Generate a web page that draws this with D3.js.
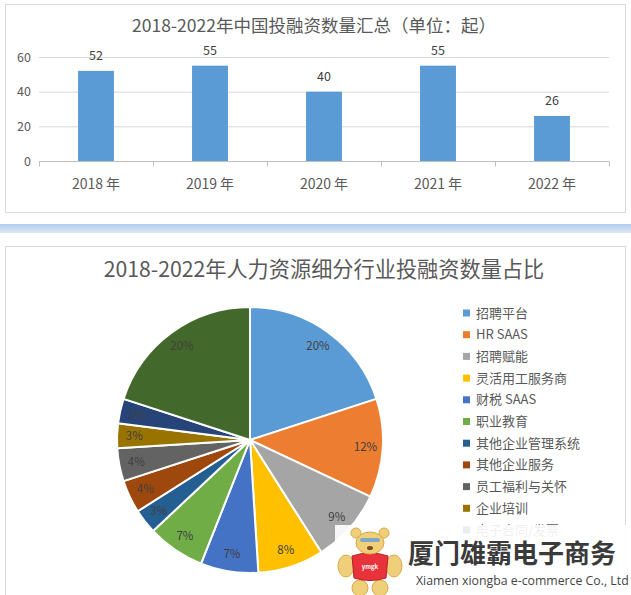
<!DOCTYPE html>
<html><head><meta charset="utf-8">
<script src="https://cdn.jsdelivr.net/npm/d3@7"></script>
<style>
html,body{margin:0;padding:0;background:#fff;}
svg{display:block;font-family:"Noto Sans CJK SC","Noto Sans",sans-serif;}
</style></head>
<body>
<svg id="c" width="631" height="595"></svg>
<script>
// ---- data ----
const years = ["2018 年","2019 年","2020 年","2021 年","2022 年"];
const counts = [52, 55, 40, 55, 26];
const yTicks = [0, 20, 40, 60];
const sectors = ["招聘平台","HR SAAS","招聘赋能","灵活用工服务商","财税 SAAS","职业教育","其他企业管理系统","其他企业服务","员工福利与关怀","企业培训","电子合同/发票","其他"];
const shares = [20, 12, 9, 8, 7, 7, 3, 4, 4, 3, 3, 20];
const sectorColors = ["#5b9bd5","#ed7d31","#a5a5a5","#ffc000","#4472c4","#70ad47","#255e91","#9e480e","#636363","#997300","#264478","#43682b"];
const legendShown = 11; // the remaining entry is hidden below the watermark in the reference
const barTitle = "2018-2022年中国投融资数量汇总（单位：起）";
const pieTitle = "2018-2022年人力资源细分行业投融资数量占比";

const svg = d3.select("#c");
const txt = "#595959";

// ---- top panel ----
svg.append("rect").attr("x",5.5).attr("y",4.5).attr("width",620).attr("height",208)
  .attr("fill","#fff").attr("stroke","#d9d9d9");
svg.append("text").attr("x",314).attr("y",32).attr("text-anchor","middle")
  .attr("font-size",17.5).attr("fill",txt).text(barTitle);

const x = d3.scaleBand().domain(years).range([39,609]).paddingInner(0.685).paddingOuter(0.3425);
const y = d3.scaleLinear().domain([0,60]).range([161,57]);

const g = svg.append("g");
g.selectAll(".grid").data(yTicks.filter(d=>d>0)).join("line")
  .attr("x1",39).attr("x2",609).attr("y1",d=>y(d)+0.5).attr("y2",d=>y(d)+0.5)
  .attr("stroke","#d9d9d9");
g.selectAll(".yl").data(yTicks).join("text")
  .attr("x",31).attr("y",d=>y(d)+4.5).attr("text-anchor","end")
  .attr("font-size",12.5).attr("fill",txt).text(d=>d);

// x axis
const xAxis = d3.axisBottom(x).tickSize(0).tickFormat("");
const ax = g.append("g").attr("transform","translate(0,161.5)").call(xAxis);
ax.select(".domain").attr("stroke","#bfbfbf").attr("d","M39,0H609");
const bounds = d3.range(years.length+1).map(i=>39 + i*x.step());
g.selectAll(".tk").data(bounds).join("line")
  .attr("x1",d=>d+0.5).attr("x2",d=>d+0.5).attr("y1",161.5).attr("y2",166.5).attr("stroke","#bfbfbf");

g.selectAll(".bar").data(counts).join("rect")
  .attr("x",(d,i)=>x(years[i])).attr("width",x.bandwidth())
  .attr("y",d=>y(d)).attr("height",d=>y(0)-y(d)).attr("fill","#5b9bd5");
g.selectAll(".bl").data(counts).join("text")
  .attr("x",(d,i)=>x(years[i])+x.bandwidth()/2).attr("y",d=>y(d)-11)
  .attr("text-anchor","middle").attr("font-size",12.5).attr("fill","#404040").text(d=>d);
g.selectAll(".xl").data(years).join("text")
  .attr("x",d=>x(d)+x.bandwidth()/2).attr("y",189)
  .attr("text-anchor","middle").attr("font-size",14).attr("fill",txt).text(d=>d);

// ---- separator band ----
const defs = svg.append("defs");
const lg = defs.append("linearGradient").attr("id","band").attr("x1",0).attr("y1",0).attr("x2",0).attr("y2",1);
lg.append("stop").attr("offset","0").attr("stop-color","#b3cdee");
lg.append("stop").attr("offset","1").attr("stop-color","#dbe8f8");
svg.append("rect").attr("x",0).attr("y",224).attr("width",631).attr("height",9).attr("fill","url(#band)");

// ---- bottom panel ----
svg.append("rect").attr("x",5.5).attr("y",246.5).attr("width",620).attr("height",360)
  .attr("fill","#fff").attr("stroke","#d9d9d9");
svg.append("text").attr("x",324).attr("y",277).attr("text-anchor","middle")
  .attr("font-size",21.2).attr("fill",txt).text(pieTitle);

const cx = 250, cy = 440, R = 133;
const pie = d3.pie().sort(null).value(d=>d)(shares);
const arc = d3.arc().innerRadius(0).outerRadius(R);
const labelArc = d3.arc().innerRadius(R*0.87).outerRadius(R*0.87);
const color = d3.scaleOrdinal().domain(sectors).range(sectorColors);
const pg = svg.append("g").attr("transform",`translate(${cx},${cy})`);
pg.selectAll("path").data(pie).join("path")
  .attr("d",arc).attr("fill",(d,i)=>color(sectors[i]))
  .attr("stroke","#fff").attr("stroke-width",2).attr("stroke-linejoin","round");
pg.selectAll(".pl").data(pie).join("text")
  .attr("transform",d=>`translate(${labelArc.centroid(d)})`)
  .attr("dy","0.35em").attr("text-anchor","middle")
  .attr("font-size",11.5).attr("fill","#404040").text(d=>d.data+"%");

// legend
const lgd = svg.append("g");
const ly = d3.scaleLinear().domain([0,1]).range([313,334.7]);
sectors.slice(0, legendShown).forEach((s,i)=>{
  lgd.append("rect").attr("x",463).attr("y",ly(i)-3.5).attr("width",7).attr("height",7).attr("fill",color(s));
  lgd.append("text").attr("x",476).attr("y",ly(i)+4.5).attr("font-size",13).attr("fill",txt).text(s);
});

// ---- watermark ----
const wm = svg.append("g");
wm.append("rect").attr("x",335).attr("y",525).attr("width",296).attr("height",70).attr("fill","#fff").attr("opacity",0.9);
// bear
const bear = wm.append("g");
const fur = "#f0cf7a", furD = "#d9a94a";
bear.append("ellipse").attr("cx",360).attr("cy",588).attr("rx",8).attr("ry",8).attr("fill",fur).attr("stroke",furD);
bear.append("ellipse").attr("cx",380).attr("cy",588).attr("rx",8).attr("ry",8).attr("fill",fur).attr("stroke",furD);
bear.append("ellipse").attr("cx",346).attr("cy",566).attr("rx",8).attr("ry",11).attr("fill",fur).attr("stroke",furD);
bear.append("ellipse").attr("cx",394).attr("cy",566).attr("rx",8).attr("ry",11).attr("fill",fur).attr("stroke",furD);
bear.append("path").attr("d","M352,556 Q370,550 388,556 L386,578 Q370,583 354,578 Z").attr("fill","#e8333a").attr("stroke","#b82025");
bear.append("text").attr("x",370).attr("y",569).attr("text-anchor","middle").attr("font-size",6).attr("font-weight","bold").attr("fill","#fff").text("ymgk");
bear.append("circle").attr("cx",356).attr("cy",533).attr("r",5).attr("fill",fur).attr("stroke",furD);
bear.append("circle").attr("cx",384).attr("cy",533).attr("r",5).attr("fill",fur).attr("stroke",furD);
bear.append("ellipse").attr("cx",370).attr("cy",543).attr("rx",14).attr("ry",11).attr("fill",fur).attr("stroke",furD);
bear.append("rect").attr("x",360).attr("y",538).attr("width",20).attr("height",4).attr("rx",2).attr("fill","#7fa8c8");
bear.append("ellipse").attr("cx",370).attr("cy",548).attr("rx",3).attr("ry",2).attr("fill","#7a4a20");
wm.append("text").attr("x",408).attr("y",563).attr("font-size",26).attr("font-weight","bold").attr("fill","#3a3a3a").text("厦门雄霸电子商务");
wm.append("text").attr("x",416).attr("y",585).attr("font-size",12.3).attr("fill","#444").attr("font-family","'Open Sans',sans-serif").text("Xiamen xiongba e-commerce Co., Ltd");
</script>
</body></html>
